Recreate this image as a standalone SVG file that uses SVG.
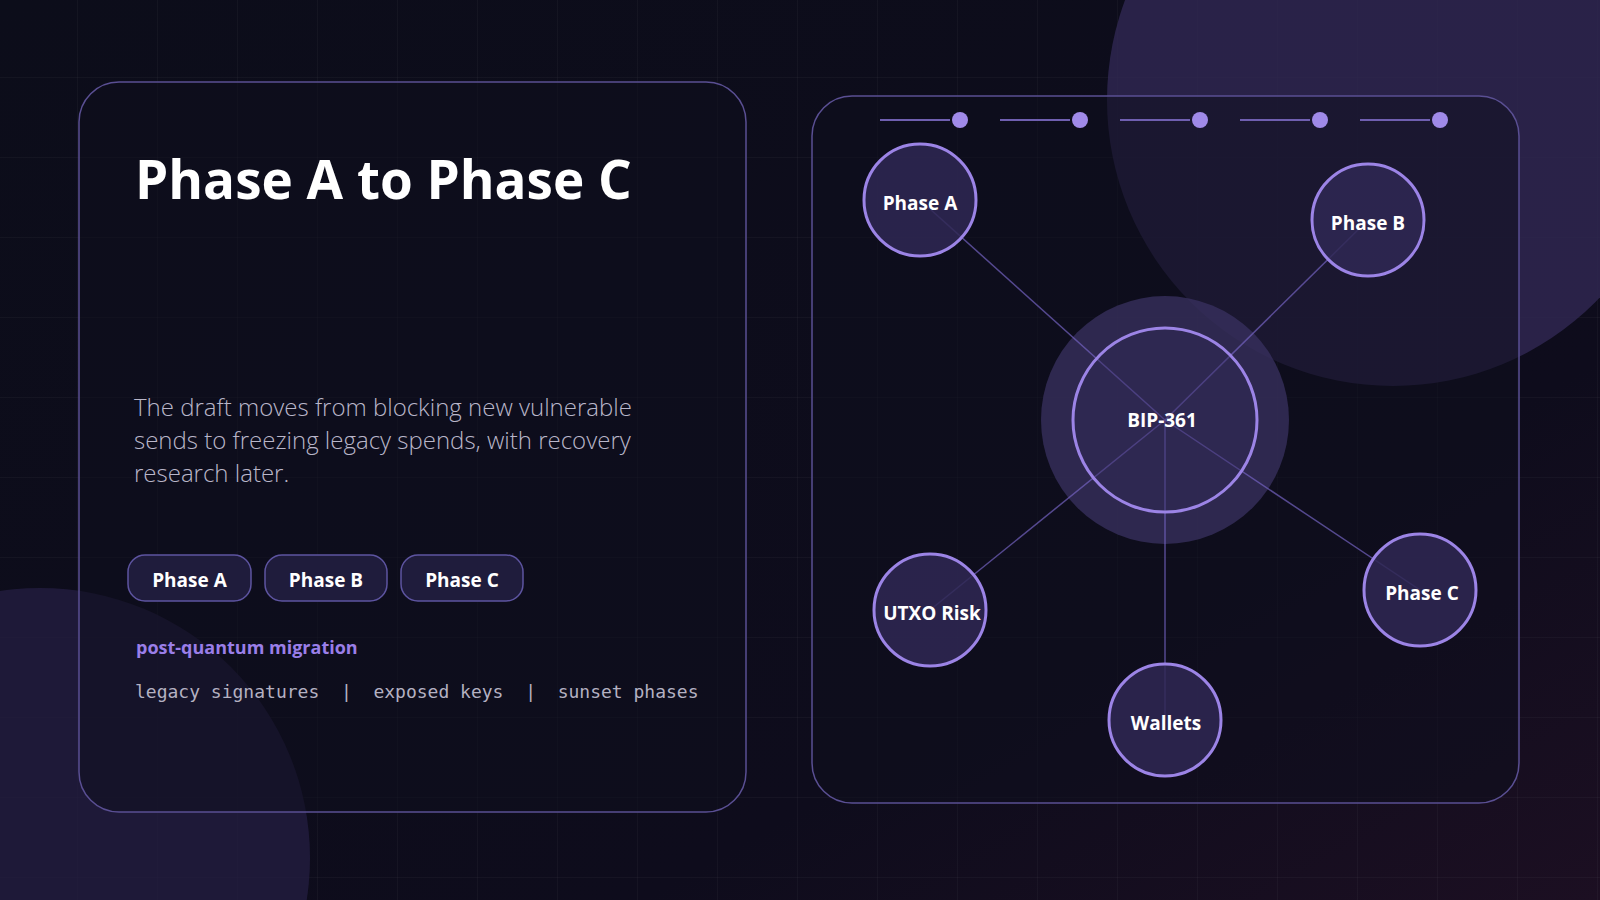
<svg xmlns="http://www.w3.org/2000/svg" width="1600" height="900" viewBox="0 0 1600 900">
<defs>
<linearGradient id="bg" x1="0" y1="0" x2="1" y2="1"><stop offset="0" stop-color="#0c0d1a"/><stop offset="0.7" stop-color="#0e0c1c"/><stop offset="1" stop-color="#1c0f22"/></linearGradient>
<pattern id="grid" width="80" height="80" patternUnits="userSpaceOnUse" x="-2" y="-2"><path d="M80 0V80M0 80H80" fill="none" stroke="#ffffff" stroke-opacity="0.06" stroke-width="1"/></pattern>
<style>
.panel{fill:#0e0e1e;fill-opacity:0.55;stroke:#5a4f93;stroke-width:1.5}
.pill{fill:#1f1c3c;stroke:#5d54a0;stroke-width:1.5}
.pt{font-family:"Open Sans","Noto Sans",sans-serif;font-weight:700;font-size:19px;fill:#ffffff;text-anchor:middle}
.node{fill:#2f2854;stroke:#9c84e6;stroke-width:3}
.nt{font-family:"Open Sans","Noto Sans",sans-serif;font-weight:700;font-size:19px;fill:#ffffff;text-anchor:middle}
.edge{stroke:#7462c0;stroke-opacity:0.7;stroke-width:1.5}
.tl{stroke:#6f5fb0;stroke-width:2}
.dot{fill:#a08ae8}
</style>
</defs>
<rect width="1600" height="900" fill="url(#bg)"/>
<rect width="1600" height="900" fill="url(#grid)"/>
<circle cx="1393" cy="100" r="286" fill="#2f2750" fill-opacity="0.85"/>
<circle cx="40" cy="858" r="270" fill="#231d40" fill-opacity="0.8"/>
<g id="left-panel">
<rect class="panel" x="79" y="82" width="667" height="730" rx="40"/>
<text x="135" y="199" font-family="Open Sans,Noto Sans,sans-serif" font-weight="700" font-size="53" fill="#ffffff">Phase A to Phase C</text>
<text font-family="Open Sans,Noto Sans,sans-serif" font-weight="300" font-size="24" fill="#b9b6c9"><tspan x="134" y="416">The draft moves from blocking new vulnerable</tspan><tspan x="134" y="449">sends to freezing legacy spends, with recovery</tspan><tspan x="134" y="482">research later.</tspan></text>
</g>
<g id="pill-a"><rect class="pill" x="128" y="555" width="123" height="46" rx="17"/><text class="pt" x="189.5" y="587">Phase A</text></g>
<g id="pill-b"><rect class="pill" x="265" y="555" width="122" height="46" rx="17"/><text class="pt" x="326" y="587">Phase B</text></g>
<g id="pill-c"><rect class="pill" x="401" y="555" width="122" height="46" rx="17"/><text class="pt" x="462" y="587">Phase C</text></g>
<text x="136" y="654" font-family="Open Sans,Noto Sans,sans-serif" font-weight="700" font-size="18" fill="#9a7ee8">post-quantum migration</text>
<text x="135" y="698" font-family="DejaVu Sans Mono,monospace" font-size="18" fill="#b4b1c2" xml:space="preserve">legacy signatures  |  exposed keys  |  sunset phases</text>
<g id="right-panel">
<rect class="panel" x="812" y="96" width="707" height="707" rx="40"/>
</g>
<g id="timeline">
<line class="tl" x1="880" y1="120" x2="950" y2="120"/><circle class="dot" cx="960" cy="120" r="8"/>
<line class="tl" x1="1000" y1="120" x2="1070" y2="120"/><circle class="dot" cx="1080" cy="120" r="8"/>
<line class="tl" x1="1120" y1="120" x2="1190" y2="120"/><circle class="dot" cx="1200" cy="120" r="8"/>
<line class="tl" x1="1240" y1="120" x2="1310" y2="120"/><circle class="dot" cx="1320" cy="120" r="8"/>
<line class="tl" x1="1360" y1="120" x2="1430" y2="120"/><circle class="dot" cx="1440" cy="120" r="8"/>
</g>
<circle cx="1165" cy="420" r="124" fill="#3a3160" fill-opacity="0.75"/>
<g id="connectors">
<line class="edge" x1="1165" y1="420" x2="920" y2="200"/>
<line class="edge" x1="1165" y1="420" x2="1368" y2="220"/>
<line class="edge" x1="1165" y1="420" x2="1420" y2="590"/>
<line class="edge" x1="1165" y1="420" x2="930" y2="610"/>
<line class="edge" x1="1165" y1="420" x2="1165" y2="720"/>
</g>
<g id="bip361"><circle class="node" cx="1165" cy="420" r="92" fill-opacity="0.4"/><text class="nt" x="1162" y="427">BIP-361</text></g>
<g id="phase-a"><circle class="node" cx="920" cy="200" r="56" fill-opacity="0.85"/><text class="nt" x="920" y="210">Phase A</text></g>
<g id="phase-b"><circle class="node" cx="1368" cy="220" r="56" fill-opacity="0.85"/><text class="nt" x="1368" y="230">Phase B</text></g>
<g id="phase-c"><circle class="node" cx="1420" cy="590" r="56" fill-opacity="0.85"/><text class="nt" x="1422" y="600">Phase C</text></g>
<g id="utxo"><circle class="node" cx="930" cy="610" r="56" fill-opacity="0.85"/><text class="nt" x="932" y="620">UTXO Risk</text></g>
<g id="wallets"><circle class="node" cx="1165" cy="720" r="56" fill-opacity="0.85"/><text class="nt" x="1166" y="730">Wallets</text></g>
</svg>
